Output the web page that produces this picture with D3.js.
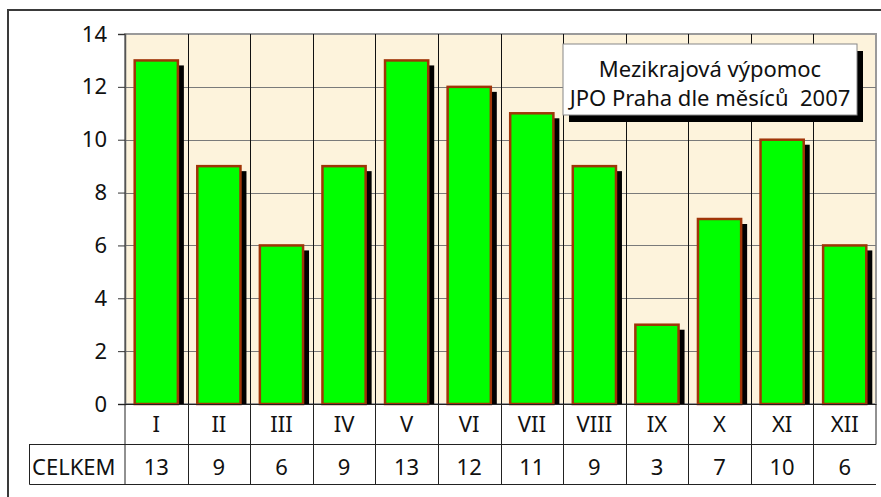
<!DOCTYPE html>
<meta charset="utf-8">
<style>
    body {
        margin: 0;
        overflow: hidden;
        background: #fff;
    }
    text {
        font-family: "Noto Sans", "DejaVu Sans", sans-serif;
        fill: #111;
        white-space: pre;
    }
</style>
<div id="container"></div>
<script src="https://cdn.jsdelivr.net/npm/d3@7"></script>
<script>
    // data
    const months = ["I", "II", "III", "IV", "V", "VI", "VII", "VIII", "IX", "X", "XI", "XII"];
    const counts = [13, 9, 6, 9, 13, 12, 11, 9, 3, 7, 10, 6];
    const yTicks = [0, 2, 4, 6, 8, 10, 12, 14];
    const titleLines = ["Mezikrajová výpomoc", "JPO Praha dle měsíců  2007"];
    const rowLabel = "CELKEM";

    const width = 881, height = 497;
    const plot = {left: 125, right: 876, top: 34, bottom: 404};
    const rowH = 40;
    const fontSize = 22;

    const svg = d3.select("#container").append("svg")
        .attr("width", width)
        .attr("height", height);

    // outer frame (only top and left edges are visible)
    svg.append("path")
        .attr("d", `M8,${height}V10H${width}`)
        .attr("fill", "none")
        .attr("stroke", "#3a3a3a")
        .attr("stroke-width", 2);

    const x = d3.scaleBand()
        .domain(months)
        .range([plot.left, plot.right]);

    const y = d3.scaleLinear()
        .domain([0, 14])
        .range([plot.bottom, plot.top]);

    // plot background
    svg.append("rect")
        .attr("x", plot.left)
        .attr("y", plot.top)
        .attr("width", plot.right - plot.left)
        .attr("height", plot.bottom - plot.top)
        .attr("fill", "#fdf3dc")
        .attr("stroke", "#9a9a9a")
        .attr("stroke-width", 2);

    // horizontal grid
    svg.append("g")
        .selectAll("line")
        .data(yTicks.filter(d => d > 0 && d < 14))
        .join("line")
        .attr("x1", plot.left)
        .attr("x2", plot.right)
        .attr("y1", d => Math.round(y(d)) + 0.5)
        .attr("y2", d => Math.round(y(d)) + 0.5)
        .attr("stroke", "#7a7a7a");

    // vertical grid between months
    svg.append("g")
        .selectAll("line")
        .data(months.slice(1))
        .join("line")
        .attr("x1", d => Math.round(x(d)) + 0.5)
        .attr("x2", d => Math.round(x(d)) + 0.5)
        .attr("y1", plot.top)
        .attr("y2", plot.bottom)
        .attr("stroke", "#111");

    // y axis
    const yAxis = svg.append("g")
        .attr("transform", `translate(${plot.left},0)`)
        .call(d3.axisLeft(y).tickValues(yTicks).tickSize(7).tickPadding(11));
    yAxis.select(".domain").attr("stroke", "#555").attr("stroke-width", 1.5);
    yAxis.selectAll(".tick line").attr("stroke", "#333");
    yAxis.selectAll(".tick text")
        .attr("font-size", fontSize)
        .attr("font-family", null)
        .attr("fill", "#111");

    // bars with drop shadow
    const barW = x.bandwidth() * 0.69;
    const barOff = (x.bandwidth() - barW) / 2;
    const bars = svg.append("g")
        .selectAll("g")
        .data(months.map((m, i) => ({m, v: counts[i]})))
        .join("g");

    bars.append("rect")
        .attr("x", d => x(d.m) + barOff + 6)
        .attr("y", d => y(d.v) + 5)
        .attr("width", barW)
        .attr("height", d => plot.bottom - y(d.v) - 5)
        .attr("fill", "#000");

    bars.append("rect")
        .attr("x", d => x(d.m) + barOff)
        .attr("y", d => y(d.v))
        .attr("width", barW)
        .attr("height", d => plot.bottom - y(d.v))
        .attr("fill", "#00ff00")
        .attr("stroke", "#a03508")
        .attr("stroke-width", 2.5);

    // baseline
    svg.append("line")
        .attr("x1", plot.left - 7)
        .attr("x2", plot.right)
        .attr("y1", plot.bottom + 0.5)
        .attr("y2", plot.bottom + 0.5)
        .attr("stroke", "#222");

    // title box with shadow
    const box = {x: 563, y: 44, w: 294, h: 71};
    svg.append("rect")
        .attr("x", box.x + 6)
        .attr("y", box.y + 7)
        .attr("width", box.w)
        .attr("height", box.h)
        .attr("fill", "#000");
    svg.append("rect")
        .attr("x", box.x)
        .attr("y", box.y)
        .attr("width", box.w)
        .attr("height", box.h)
        .attr("fill", "#fff")
        .attr("stroke", "#888")
        .attr("stroke-width", 1);
    svg.append("g")
        .selectAll("text")
        .data(titleLines)
        .join("text")
        .attr("x", box.x + box.w / 2)
        .attr("y", (d, i) => box.y + 33 + i * 29)
        .attr("text-anchor", "middle")
        .attr("font-size", fontSize)
        .text(d => d);

    // data table under the chart
    const table = svg.append("g");
    const rowTop = plot.bottom, midRow = plot.bottom + rowH, rowBot = plot.bottom + 2 * rowH;
    const tableLeft = 29;

    table.append("path")
        .attr("d", `M${plot.left},${rowTop}V${rowBot}M${tableLeft},${midRow + 0.5}H${plot.right}V${rowTop}` +
            `M${tableLeft + 0.5},${midRow}V${rowBot + 0.5}H${plot.right}`)
        .attr("fill", "none")
        .attr("stroke", "#222");

    table.selectAll("line.sep")
        .data(months.slice(1))
        .join("line")
        .attr("class", "sep")
        .attr("x1", d => Math.round(x(d)) + 0.5)
        .attr("x2", d => Math.round(x(d)) + 0.5)
        .attr("y1", rowTop)
        .attr("y2", rowBot)
        .attr("stroke", "#222");

    table.selectAll("text.cat")
        .data(months)
        .join("text")
        .attr("class", "cat")
        .attr("x", d => x(d) + x.bandwidth() / 2)
        .attr("y", rowTop + 28)
        .attr("text-anchor", "middle")
        .attr("font-size", fontSize)
        .text(d => d);

    table.selectAll("text.val")
        .data(months.map((m, i) => ({m, v: counts[i]})))
        .join("text")
        .attr("class", "val")
        .attr("x", d => x(d.m) + x.bandwidth() / 2)
        .attr("y", midRow + 31)
        .attr("text-anchor", "middle")
        .attr("font-size", fontSize)
        .text(d => d.v);

    table.append("text")
        .attr("x", tableLeft + 3)
        .attr("y", midRow + 31)
        .attr("font-size", fontSize)
        .text(rowLabel);
</script>
